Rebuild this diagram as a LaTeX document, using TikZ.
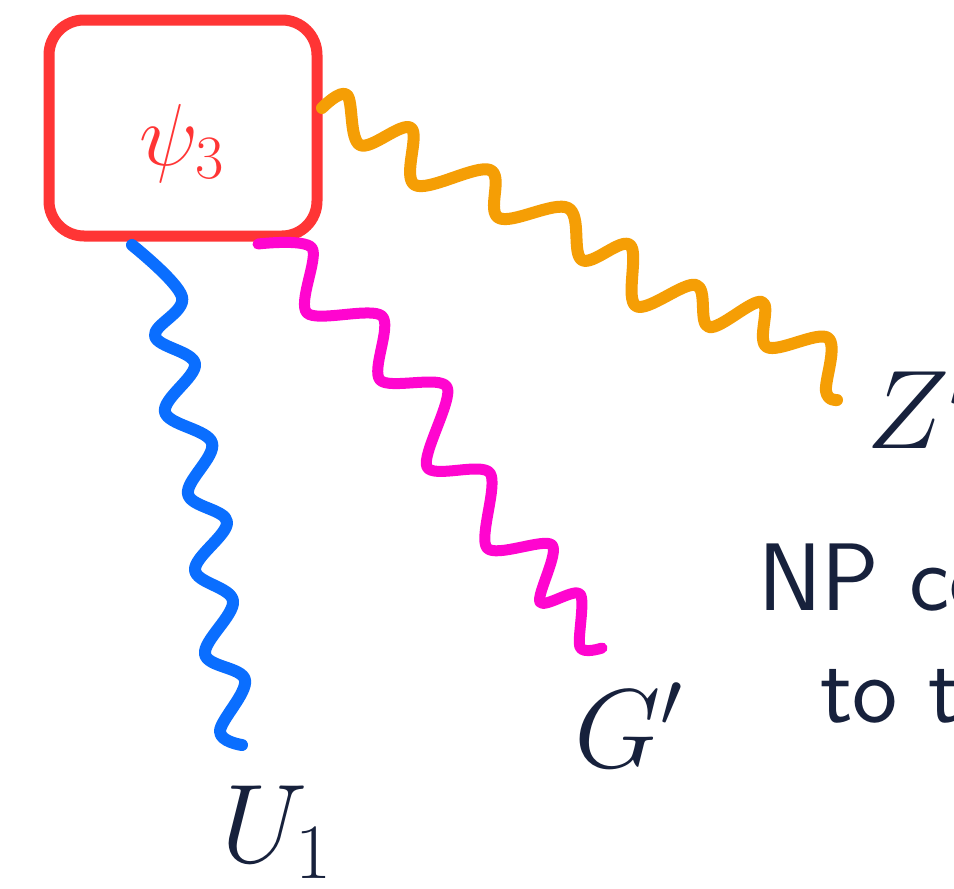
\RequirePackage{fix-cm}
\documentclass[tikz,border=0pt]{standalone}
\definecolor{boxred}{HTML}{FF3535}
\definecolor{wavorange}{HTML}{F59E05}
\definecolor{wavblue}{HTML}{0A6EFF}
\definecolor{wavmag}{HTML}{FF05CF}
\definecolor{inknavy}{HTML}{17213C}
\tikzset{
  wave/.style={line width=12pt, line cap=round, line join=round},
  lbl/.style={inner sep=0pt, text=inknavy, anchor=base west, font=\fontsize{112}{130}\selectfont},
  txt/.style={inner sep=0pt, text=inknavy, anchor=base west, font=\fontsize{96}{115}\selectfont\sffamily},
  psibox/.style={draw=boxred, line width=11pt, rounded corners=35pt, minimum width=268pt, minimum height=216pt, inner sep=0pt}
}
\begin{document}
\begin{tikzpicture}[x=1pt,y=-1pt]
\clip (0,0) rectangle (954,889);
\fill[white] (0,0) rectangle (954,889);
% box
\node[psibox] (box) at (183,128) {};
\node[inner sep=0pt, text=boxred, font=\fontsize{88}{104}\selectfont] (psi) at (182,143) {$\psi_3$};
% labels
\node[lbl] (U) at (221,862) {$U_1$};
\node[lbl] (G) at (574,767) {$G'$};
\node[lbl] (Z) at (866,448) {$Z'$};
\node[txt] (np) at (758,610) {NP co};
\node[txt] (tot) at (820,722) {to t};
% orange wave
\coordinate (oS) at (322,108);
\coordinate (oE) at (837,400);
\draw[wave, wavorange] plot[smooth, tension=0.6] coordinates {
 (oS) (347,95) (360,145) (411,128) (415,185) (490,170) (499,218) (568,208)
 (582,260) (630,245) (636,306) (696,285) (709,327) (762,302) (767,347)
 (828,338) (826,391) (oE)};
% blue wave
\coordinate (bS) at (132,245);
\coordinate (bE) at (242,745);
\draw[wave, wavblue] plot[smooth, tension=0.6] coordinates {
 (bS) (182,297) (155,336) (195,364) (165,412) (212,443) (188,494) (227,522)
 (195,570) (233,601) (205,654) (245,680) (220,731) (bE)};
% magenta wave
\coordinate (mS) at (258,244);
\coordinate (mE) at (602,648);
\draw[wave, wavmag, line width=11pt] plot[smooth, tension=0.5] coordinates {
 (mS) (312,248) (307,313) (382,316) (380,380) (447,387) (427,467) (490,473)
 (487,548) (552,545) (540,602) (580,594) (580,647) (mE)};
\end{tikzpicture}
\end{document}
